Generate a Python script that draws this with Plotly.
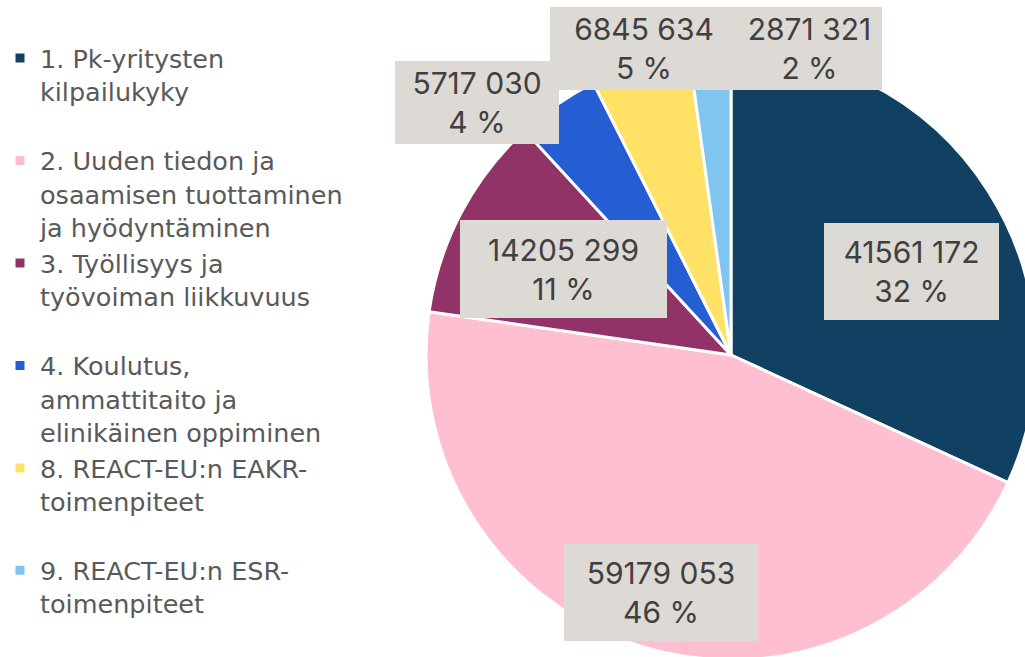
import plotly.graph_objects as go

# ---- data ----
legend_labels = [
    "1. Pk-yritysten<br>kilpailukyky<br> ",
    "2. Uuden tiedon ja<br>osaamisen tuottaminen<br>ja hyödyntäminen",
    "3. Työllisyys ja<br>työvoiman liikkuvuus<br> ",
    "4. Koulutus,<br>ammattitaito ja<br>elinikäinen oppiminen",
    "8. REACT-EU:n EAKR-<br>toimenpiteet<br> ",
    "9. REACT-EU:n ESR-<br>toimenpiteet",
]
values = [41561172, 59179053, 14205299, 5717030, 6845634, 2871321]
value_labels = ["41561 172", "59179 053", "14205 299", "5717 030", "6845 634", "2871 321"]
percent_labels = ["32 %", "46 %", "11 %", "4 %", "5 %", "2 %"]
colors = ["#104162", "#FFBFD0", "#913366", "#255DD2", "#FFE265", "#7FC5EF"]

# ---- layout constants (pixels) ----
W, H = 1060, 672
pie_cx, pie_cy, pie_r = 731, 355, 305
# label boxes: centre x, centre y, width, height
label_boxes = [
    (911.5, 271.5, 175, 97),
    (661, 592.5, 194, 97),
    (563.5, 269, 207, 98),
    (477, 102.5, 164, 83),
    (644, 48.5, 188, 83),
    (809.5, 48.5, 145, 83),
]

fig = go.Figure()
fig.add_trace(go.Pie(
    labels=legend_labels,
    values=values,
    sort=False,
    direction="clockwise",
    rotation=0,
    marker=dict(colors=colors, line=dict(color="white", width=3)),
    textinfo="none",
    hoverinfo="label+value+percent",
    domain=dict(
        x=[(pie_cx - pie_r) / W, (pie_cx + pie_r) / W],
        y=[1 - (pie_cy + pie_r) / H, 1 - (pie_cy - pie_r) / H],
    ),
))

for (cx, cy, bw, bh), vl, pl in zip(label_boxes, value_labels, percent_labels):
    fig.add_annotation(
        x=cx / W, y=1 - cy / H, xref="paper", yref="paper",
        xanchor="center", yanchor="middle",
        text=f"{vl}<br>{pl}", showarrow=False,
        width=bw, height=bh, align="center", valign="middle",
        bgcolor="#DDD9D5", borderpad=0, borderwidth=0,
        font=dict(family="Inter, Liberation Sans, sans-serif", size=30, color="#404040"),
    )

fig.update_layout(
    width=W, height=H,
    margin=dict(l=0, r=0, t=0, b=0),
    paper_bgcolor="white",
    plot_bgcolor="white",
    showlegend=True,
    legend=dict(
        x=0.0, y=1 - 35 / H, xanchor="left", yanchor="top",
        font=dict(family="DejaVu Sans, sans-serif", size=25.5, color="#595959"),
        valign="top",
        bgcolor="rgba(0,0,0,0)",
        itemclick=False, itemdoubleclick=False,
    ),
)

fig.write_html(
    "out.html",
    config={"displayModeBar": False},
    post_script="document.body.style.margin='0';document.body.style.overflow='hidden';",
)
